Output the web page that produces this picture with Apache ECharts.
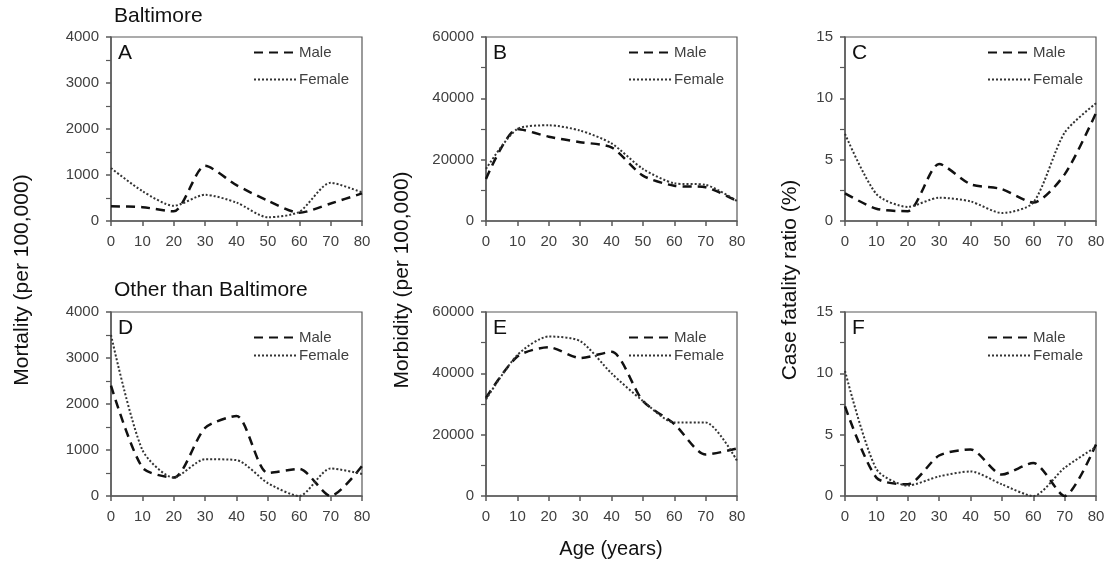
<!DOCTYPE html>
<html>
<head>
<meta charset="utf-8">
<script src="https://cdn.jsdelivr.net/npm/echarts@6/dist/echarts.min.js"></script>
<style>
html,body{margin:0;padding:0;background:#fff;}
#chart{width:1111px;height:572px;}
</style>
</head>
<body>
<div id="chart"></div>
<script>
// ---- data ----
const ages = [0, 10, 20, 30, 40, 50, 60, 70, 80];
const mortBaltMale     = [320, 300, 210, 1200, 780, 440, 180, 380, 600];
const mortBaltFemale   = [1150, 650, 330, 570, 400, 80, 200, 830, 620];
const morbBaltMale     = [13700, 30000, 27500, 25700, 24000, 14800, 11500, 11000, 6500];
const morbBaltFemale   = [17000, 30000, 31200, 29500, 25300, 17000, 12300, 11800, 6500];
const cfrBaltMale      = [2.25, 1.0, 0.8, 4.65, 3.0, 2.6, 1.5, 3.8, 8.8];
const cfrBaltFemale    = [7.1, 2.2, 1.15, 1.9, 1.6, 0.65, 1.5, 7.2, 9.6];
const mortOtherMale    = [2400, 620, 400, 1480, 1740, 500, 590, 0, 650];
const mortOtherFemale  = [3500, 1000, 400, 800, 780, 280, 0, 600, 480];
const morbOtherMale    = [32000, 45500, 48500, 45000, 47000, 31000, 23500, 13500, 15500];
const morbOtherFemale  = [31500, 46000, 52000, 50500, 40000, 31000, 24000, 24000, 11500];
const cfrOtherMale     = [7.3, 1.5, 0.95, 3.3, 3.8, 1.75, 2.7, 0, 4.2];
const cfrOtherFemale   = [10.2, 2.2, 0.85, 1.6, 2.0, 0.95, 0, 2.3, 4.0];
const panelLetters = ['A', 'B', 'C', 'D', 'E', 'F'];
const yMax = [4000, 60000, 15, 4000, 60000, 15];
const yInterval = [1000, 20000, 5, 1000, 20000, 5];
const seriesNames = ['Male', 'Female'];
const rowTitles = ['Baltimore', 'Other than Baltimore'];
const yAxisNames = ['Mortality (per 100,000)', 'Morbidity (per 100,000)', 'Case fatality ratio (%)'];
const xAxisName = 'Age (years)';

const panelData = [
  [mortBaltMale, mortBaltFemale],
  [morbBaltMale, morbBaltFemale],
  [cfrBaltMale, cfrBaltFemale],
  [mortOtherMale, mortOtherFemale],
  [morbOtherMale, morbOtherFemale],
  [cfrOtherMale, cfrOtherFemale]
];

// ---- layout ----
const FONT = '"Liberation Sans", Arial, sans-serif';
const lefts = [111, 486, 845];
const tops = [37, 312];
const W = 251, H = 184;
const axisColor = '#595959';
const textColor = '#404040';
const plain = v => String(v);

const grids = [], xAxes = [], yAxes = [], series = [], legends = [], graphics = [];
for (let i = 0; i < 6; i++) {
  const r = Math.floor(i / 3), c = i % 3;
  grids.push({left: lefts[c], top: tops[r], width: W, height: H,
    show: true, borderColor: axisColor, borderWidth: 1.2, backgroundColor: 'transparent'});
  xAxes.push({type: 'value', gridIndex: i, min: 0, max: 80, interval: 10,
    axisLine: {lineStyle: {color: axisColor, width: 1.5}},
    axisTick: {show: true, length: 5, lineStyle: {color: axisColor, width: 1.5}},
    axisLabel: {color: textColor, fontSize: 15, fontFamily: FONT, margin: 13, formatter: plain},
    splitLine: {show: false}});
  yAxes.push({type: 'value', gridIndex: i, min: 0, max: yMax[i], interval: yInterval[i],
    axisLine: {show: true, lineStyle: {color: axisColor, width: 1.5}},
    axisTick: {show: true, length: 5, lineStyle: {color: axisColor, width: 1.5}},
    minorTick: {show: true, splitNumber: 2, length: 5, lineStyle: {color: axisColor, width: 1.2}},
    axisLabel: {color: textColor, fontSize: 15, fontFamily: FONT, margin: 12, formatter: plain},
    splitLine: {show: false}});
  const [m, f] = panelData[i];
  series.push({name: 'Male', type: 'line', xAxisIndex: i, yAxisIndex: i,
    data: ages.map((a, k) => [a, m[k]]), smooth: 0.25,
    symbol: 'circle', symbolSize: 0, showSymbol: false,
    lineStyle: {color: '#111', width: 2.5, type: [9, 6]}, itemStyle: {color: '#111'}});
  series.push({name: 'Female', type: 'line', xAxisIndex: i, yAxisIndex: i,
    data: ages.map((a, k) => [a, f[k]]), smooth: 0.25,
    symbol: 'circle', symbolSize: 0, showSymbol: false,
    lineStyle: {color: '#333', width: 2, type: [2, 2]}, itemStyle: {color: '#333'}});
  legends.push({orient: 'vertical', left: lefts[c] + 142, top: r === 0 ? 45 : 330,
    itemGap: r === 0 ? 12 : 3, itemWidth: 42, itemHeight: 14, padding: 0,
    selectedMode: false, data: seriesNames,
    itemStyle: {color: 'rgba(0,0,0,0)', borderWidth: 0, borderColor: 'rgba(0,0,0,0)'},
    textStyle: {color: textColor, fontSize: 15, fontFamily: FONT, padding: [0, 0, 0, -2]}});
  graphics.push({type: 'text', left: lefts[c] + 7, top: tops[r] + 6,
    style: {text: panelLetters[i], fontSize: 21, fontFamily: FONT, fill: '#111'}});
}
rowTitles.forEach((t, r) => {
  graphics.push({type: 'text', left: 114, top: r === 0 ? 6 : 280,
    style: {text: t, fontSize: 21, fontFamily: FONT, fill: '#111'}});
});
const yNameX = [22, 402, 790];
yAxisNames.forEach((t, c) => {
  graphics.push({type: 'text', x: yNameX[c], y: 280, rotation: Math.PI / 2,
    style: {text: t, fontSize: 21, fontFamily: FONT, fill: '#111', align: 'center', verticalAlign: 'middle'}});
});
graphics.push({type: 'text', x: 611, y: 549,
  style: {text: xAxisName, fontSize: 20, fontFamily: FONT, fill: '#111', align: 'center', verticalAlign: 'middle'}});

const chart = echarts.init(document.getElementById('chart'), null, {renderer: 'canvas'});
chart.setOption({
  backgroundColor: '#fff',
  animation: false,
  grid: grids, xAxis: xAxes, yAxis: yAxes, series: series,
  legend: legends, graphic: graphics
});
</script>
</body>
</html>
